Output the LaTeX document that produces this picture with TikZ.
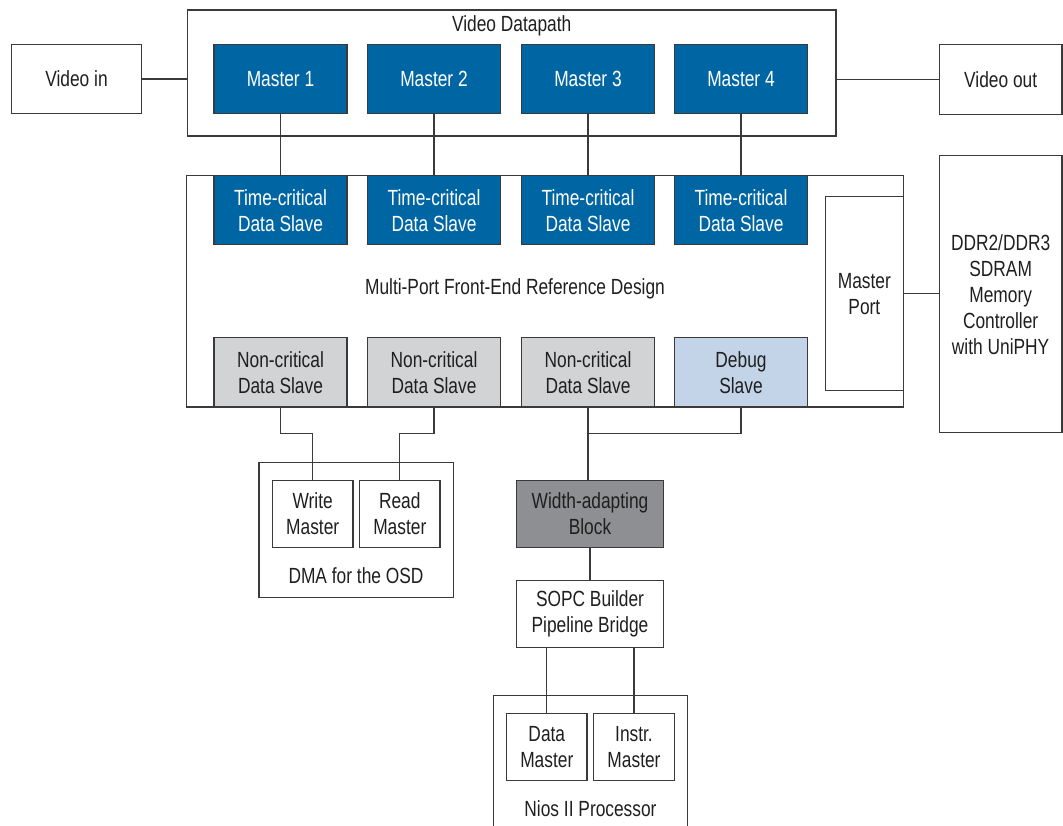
\documentclass[tikz,border=0pt]{standalone}
\usepackage{fontspec}
\setmainfont{Liberation Sans}[FakeStretch=0.79]
\usetikzlibrary{calc}
\usetikzlibrary{positioning}

\definecolor{mblue}{HTML}{0066A3}
\definecolor{ncgray}{HTML}{D1D3D4}
\definecolor{dbgblue}{HTML}{C3D4E9}
\definecolor{wagray}{HTML}{8E8F92}
\definecolor{linegray}{HTML}{3A3A3A}

\begin{document}
\begin{tikzpicture}[x=0.02cm,y=-0.02cm,
    every node/.style={rectangle,draw=linegray,line width=0.7pt,align=center,inner sep=1pt,
        font=\fontsize{12.5}{14.8}\selectfont,text=black!88},
    blk/.style={fill=mblue,text=white,minimum width=2.66cm,minimum height=1.38cm},
    slot/.style={minimum width=2.66cm,minimum height=1.38cm},
    sub/.style={minimum width=1.61cm,minimum height=1.332cm},
    lbl/.style={draw=none},
    wire/.style={draw=linegray,line width=0.7pt}]
    \useasboundingbox (0,0) rectangle (1063,826);
    \clip (0,0) rectangle (1063,826);

    % 外框
    \node[minimum width=12.974cm,minimum height=2.52cm] (dp) at (511.7,73) {};
    \node[lbl] (dptext) at (511.7,26) {Video Datapath};
    \node[minimum width=14.334cm,minimum height=4.628cm] (mp) at (545,291.3) {};
    \node[lbl] (mptext) at (515,289) {Multi-Port Front-End Reference Design};

    % 视频输入输出
    \node[minimum width=2.6cm,minimum height=1.38cm] (vin) at (76.5,79) {Video in};
    \node[minimum width=2.454cm,minimum height=1.39cm] (vout) at (1000.65,79.5) {Video out};

    % 四个主端口和对应的从端口
    \foreach \i/\x in {1/280.5,2/434,3/588,4/741} {
        \node[blk] (m\i) at (\x,79) {Master \i};
        \node[blk] (tc\i) at (\x,210.2) {Time-critical\\Data Slave};
    }
    \foreach \i/\x in {1/280.5,2/434,3/588} {
        \node[slot,fill=ncgray] (nc\i) at (\x,372.2) {Non-critical\\Data Slave};
    }
    \node[slot,fill=dbgblue] (dbg) at (741,372.2) {Debug\\Slave};

    % 存储控制器
    \node[minimum width=1.56cm,minimum height=3.88cm] (mport) at (864.4,293.6) {Master\\Port};
    \node[minimum width=2.454cm,minimum height=5.54cm] (ddr) at (1000.65,294.3)
        {DDR2/DDR3\\SDRAM\\Memory\\Controller\\with UniPHY};

    % DMA
    \node[minimum width=3.886cm,minimum height=2.692cm] (dma) at (356.2,530) {};
    \node[lbl] (dmatext) at (356,575.7) {DMA for the OSD};
    \node[sub] (wm) at (312.7,514) {Write\\Master};
    \node[sub] (rm) at (399.8,514) {Read\\Master};

    % 桥和处理器
    \node[minimum width=2.952cm,minimum height=1.332cm,fill=wagray] (wa) at (590,514) {Width-adapting\\Block};
    \node[minimum width=2.952cm,minimum height=1.34cm] (sopc) at (590,613.8) {SOPC Builder\\Pipeline Bridge};
    \node[minimum width=3.888cm,minimum height=2.892cm] (nios) at (590.5,767.6) {};
    \node[lbl] (niostext) at (590.5,808.3) {Nios II Processor};
    \node[sub,minimum width=1.606cm] (dm) at (546.8,747) {Data\\Master};
    \node[sub,minimum width=1.606cm] (im) at (634,747) {Instr.\\Master};

    % 连线
    \draw[wire] (vin) -- (vin -| dp.west);
    \draw[wire] (dp.east |- vout) -- (vout);
    \foreach \i in {1,...,4} {
        \draw[wire] (m\i) -- (tc\i);
    }
    \draw[wire] (mport.east) -- (mport.east -| ddr.west);
    \draw[wire] (nc1.south) -- ++(0,26) -| (wm.north);
    \draw[wire] (nc2.south) -- ++(0,26) -| (rm.north);
    \draw[wire] (nc3.south) -- (nc3.south |- wa.north);
    \draw[wire] (dbg.south) -- ++(0,26) -| (nc3.south);
    \draw[wire] (wa) -- (sopc);
    \draw[wire] (sopc.south -| dm.north) -- (dm.north);
    \draw[wire] (sopc.south -| im.north) -- (im.north);
\end{tikzpicture}
\end{document}
